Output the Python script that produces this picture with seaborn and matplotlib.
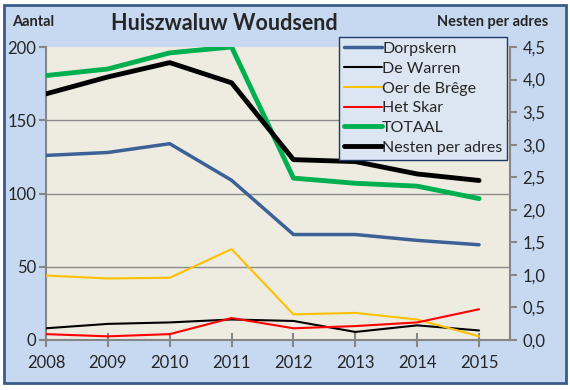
import numpy as np
import pandas as pd
import matplotlib.pyplot as plt
import seaborn as sns
from matplotlib.patches import Rectangle

jaren = [2008, 2009, 2010, 2011, 2012, 2013, 2014, 2015]

dorpskern = [126, 128, 134, 109, 72, 72, 68, 65]
de_warren = [8, 11, 12, 14, 13, 5.5, 10, 6.5]
oer_de_brege = [44, 42, 42.5, 62, 17.5, 18.5, 14, 2.5]
het_skar = [4, 2.5, 4, 15, 8, 9.5, 12, 21]
totaal = [180.5, 185, 196, 200, 110.5, 107, 105, 96.5]
nesten_per_adres = [3.78, 4.04, 4.26, 3.95, 2.77, 2.74, 2.55, 2.45]

sns.set_style("white")
plt.rcParams["font.family"] = ["Lato", "DejaVu Sans"]

fig = plt.figure(figsize=(5.7, 3.9), dpi=100)
fig.patch.set_facecolor("white")

# achtergrond + rand
fig.patches.append(Rectangle((4 / 570, 1 - 383 / 390), 562 / 570, 378 / 390,
                             transform=fig.transFigure, facecolor="#C6D9F1",
                             edgecolor="#385D8A", linewidth=2, zorder=-10))

ax = fig.add_axes([46 / 570, 1 - 340 / 390, 464 / 570, 293 / 390])
ax.set_facecolor("#EEECE1")
ax2 = ax.twinx()

df = pd.DataFrame({"jaar": jaren, "Dorpskern": dorpskern, "De Warren": de_warren,
                   "Oer de Brêge": oer_de_brege, "Het Skar": het_skar,
                   "TOTAAL": totaal, "Nesten per adres": nesten_per_adres})

series = [("Dorpskern", "#3B6196", 2.5),
          ("De Warren", "black", 1.5),
          ("Oer de Brêge", "#FFC000", 1.5),
          ("Het Skar", "#FF0000", 1.5),
          ("TOTAAL", "#00B050", 3.5)]
for naam, kleur, lw in series:
    sns.lineplot(data=df, x="jaar", y=naam, ax=ax, color=kleur, linewidth=lw,
                 label=naam, legend=False, zorder=3)

sns.lineplot(data=df, x="jaar", y="Nesten per adres", ax=ax2, color="black",
             linewidth=3.5, label="Nesten per adres", legend=False)

ax.set_xlim(2008, 2015.5)
ax.set_ylim(0, 200)
ax2.set_ylim(0, 4.5)
ax.set_xticks(jaren)
ax.set_yticks([0, 50, 100, 150, 200])
ax2.set_yticks(np.arange(0, 4.51, 0.5))
ax2.set_yticklabels([f"{v:.1f}".replace(".", ",") for v in np.arange(0, 4.51, 0.5)])

for y in [50, 100, 150]:
    ax.axhline(y, color="#8C8C8C", linewidth=1, zorder=1)

for a in (ax, ax2):
    for s in a.spines.values():
        s.set_visible(False)
    a.set_xlabel("")
    a.set_ylabel("")
ax.spines["left"].set_visible(True)
ax.spines["bottom"].set_visible(True)
ax2.spines["right"].set_visible(True)
for s in (ax.spines["left"], ax.spines["bottom"], ax2.spines["right"]):
    s.set_color("#868686")
    s.set_linewidth(1.5)

ax.tick_params(axis="y", direction="out", length=5, color="#868686", width=1.5,
               labelsize=12, pad=2, left=True)
ax.tick_params(axis="x", direction="inout", length=10, color="#868686", width=1.5,
               labelsize=12, pad=6, bottom=True)
ax2.tick_params(axis="y", direction="out", length=5, color="#868686", width=1.5,
                labelsize=12, pad=4, right=True)

fig.text(224 / 570, 1 - 24 / 390, "Huiszwaluw Woudsend", ha="center", va="center",
         fontsize=15.5, fontweight="bold")
fig.text(12 / 570, 1 - 22 / 390, "Aantal", ha="left", va="center",
         fontsize=10.5, fontweight="bold")
fig.text(548 / 570, 1 - 22 / 390, "Nesten per adres", ha="right", va="center",
         fontsize=10.5, fontweight="bold")

h1, l1 = ax.get_legend_handles_labels()
h2, l2 = ax2.get_legend_handles_labels()
leg = ax2.legend(h1 + h2, l1 + l2, loc="upper left",
                 bbox_to_anchor=(339 / 570, 1 - 37 / 390),
                 bbox_transform=fig.transFigure, fontsize=11.5, frameon=True,
                 fancybox=False, framealpha=1, handlelength=2.4,
                 handletextpad=0.0, labelspacing=0.35, borderpad=0.3,
                 borderaxespad=0)
leg.get_frame().set_facecolor("#DCE6F2")
leg.get_frame().set_edgecolor("#1F3864")
leg.get_frame().set_linewidth(1)
leg.set_zorder(10)

fig.savefig("out.png", dpi=100)
